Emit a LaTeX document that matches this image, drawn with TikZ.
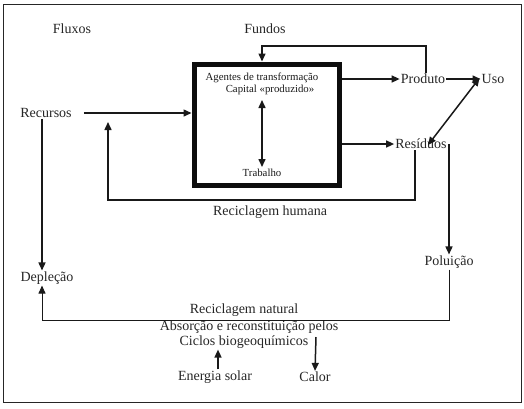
\documentclass[tikz,border=0pt]{standalone}
\usepackage{fontspec}
\setmainfont{Liberation Serif}
\usetikzlibrary{arrows.meta}
\begin{document}
\begin{tikzpicture}[x=1pt,y=-1pt,
  lbl/.style={inner sep=1pt,font=\fontsize{14}{16}\selectfont,text=black!85},
  sml/.style={inner sep=1pt,font=\fontsize{10.8}{12}\selectfont,text=black!90},
  ln/.style={line width=1.5pt,black!90},
  arr/.style={ln,-{Triangle[length=8pt,width=7pt]}},
  darr/.style={ln,{Triangle[length=8pt,width=7pt]}-{Triangle[length=8pt,width=7pt]}},
  thin/.style={line width=1pt,black!90}]
\useasboundingbox (0,0) rectangle (524,408);
\draw[line width=1pt,black!85] (3,4) rectangle (521,402);
% box
\node[draw=black!95,line width=5pt,minimum width=145pt,minimum height=121pt,inner sep=0pt] (box) at (266.5,124.5) {};
% labels
\node[lbl] (fluxos) at (72,29) {Fluxos};
\node[lbl] (fundos) at (265,29) {Fundos};
\node[sml] (agentes) at (262,78) {Agentes de transformação};
\node[sml] (capital) at (270,90) {Capital «produzido»};
\node[sml] (trabalho) at (262,173) {Trabalho};
\node[lbl] (produto) at (423,79) {Produto};
\node[lbl] (uso) at (493,79) {Uso};
\node[lbl] (residuos) at (421,144) {Resíduos};
\node[lbl] (recursos) at (46,113) {Recursos};
\node[lbl] (deplecao) at (47,278) {Depleção};
\node[lbl] (poluicao) at (449,262) {Poluição};
\node[lbl] (rhumana) at (270,212) {Reciclagem humana};
\node[lbl] (rnatural) at (244,310) {Reciclagem natural};
\node[lbl] (absorcao) at (249,327) {Absorção e reconstituição pelos};
\node[lbl] (ciclos) at (244,342) {Ciclos biogeoquímicos};
\node[lbl] (energia) at (215,377) {Energia solar};
\node[lbl] (calor) at (315,377) {Calor};
% coordinates
\coordinate (fb) at (262,46);
\coordinate (hr) at (108,200);
\coordinate (hrend) at (108,122);
\coordinate (nr) at (42,320);
% connectors
\draw[arr] (box.east |- produto) -- (produto.west);
\draw[arr] (box.east |- residuos) -- (residuos.west);
\draw[arr] ([xshift=11pt]recursos.east) -- (box.west |- recursos);
\draw[arr] ([xshift=3pt]produto.north) |- (fb) -- (fb |- box.north);
\draw[arr] (produto.east) -- (uso.west);
\draw[darr] ([xshift=-1pt,yshift=1pt]uso.west) -- ([xshift=7pt,yshift=-1pt]residuos.center);
\draw[darr] (262,100) -- (262,167);
\draw[arr] ([xshift=-6pt]residuos.south) |- (hr) -- (hrend);
\draw[arr] (poluicao.north |- residuos.center) -- (poluicao.north);
\draw[thin,-{Triangle[length=8pt,width=7pt]}] (poluicao.south) |- (nr) -- ([xshift=-5pt]deplecao.south);
\draw[arr] ([xshift=-4pt]recursos.south) -- ([xshift=-5pt]deplecao.north);
\draw[arr] ([xshift=3pt]energia.north) -- ([xshift=3pt]energia.north |- ciclos.south);
\draw[arr] (316,337) -- (calor.north);
\end{tikzpicture}
\end{document}
